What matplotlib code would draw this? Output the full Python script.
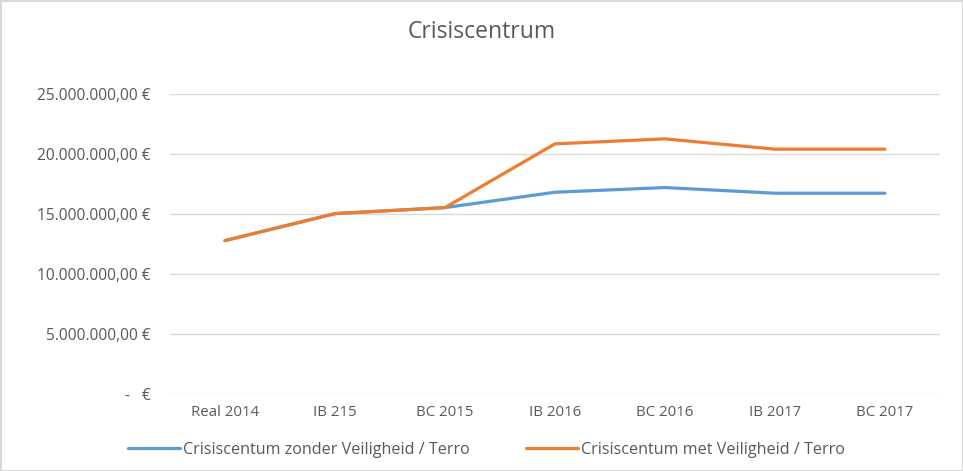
import matplotlib
matplotlib.use('Agg')
from matplotlib import pyplot as plt
from matplotlib.ticker import FuncFormatter

plt.rcParams['font.family'] = ['Open Sans', 'DejaVu Sans']

categories = ['Real 2014', 'IB 215', 'BC 2015', 'IB 2016', 'BC 2016', 'IB 2017', 'BC 2017']
zonder = [12800000, 15050000, 15550000, 16830000, 17220000, 16750000, 16750000]
met = [12800000, 15050000, 15550000, 20860000, 21280000, 20420000, 20420000]
yticks = [0, 5000000, 10000000, 15000000, 20000000, 25000000]

grey_text = '#595959'


def euro(v, pos):
    if v == 0:
        return '-   €'
    s = '{:,.2f}'.format(v)
    s = s.replace(',', 'X').replace('.', ',').replace('X', '.')
    return s + ' €'


fig = plt.figure(figsize=(9.63, 4.71), dpi=100)
fig.patch.set_edgecolor('#d9d9d9')
fig.patch.set_linewidth(2)
ax = fig.add_axes([0.1765, 0.163, 0.7995, 0.637])

x = range(len(categories))
ax.plot(x, zonder, color='#5B9BD5', linewidth=2.3, label='Crisiscentum zonder Veiligheid / Terro', solid_capstyle='round')
ax.plot(x, met, color='#ED7D31', linewidth=2.3, label='Crisiscentum met Veiligheid / Terro', solid_capstyle='round')

ax.set_xlim(-0.5, len(categories) - 0.5)
ax.set_ylim(0, 25000000)
ax.set_yticks(yticks)
ax.yaxis.set_major_formatter(FuncFormatter(euro))
ax.set_xticks(list(x))
ax.set_xticklabels(categories)
ax.grid(axis='y', color='#d9d9d9', linewidth=1)
ax.set_axisbelow(True)
for sp in ax.spines.values():
    sp.set_visible(False)
ax.tick_params(length=0, colors=grey_text, labelsize=10.8)
ax.tick_params(axis='y', labelsize=11.2, pad=14)
ax.tick_params(axis='x', pad=8)

fig.text(0.5, 0.932, 'Crisiscentrum', ha='center', va='center', fontsize=16.5, color=grey_text)

fig.legend(loc='center', bbox_to_anchor=(0.505, 0.045), ncol=2, frameon=False,
           fontsize=11.6, labelcolor=grey_text, handlelength=3.2, handletextpad=0.2,
           columnspacing=3.5)

plt.savefig('out.png', dpi=100)
